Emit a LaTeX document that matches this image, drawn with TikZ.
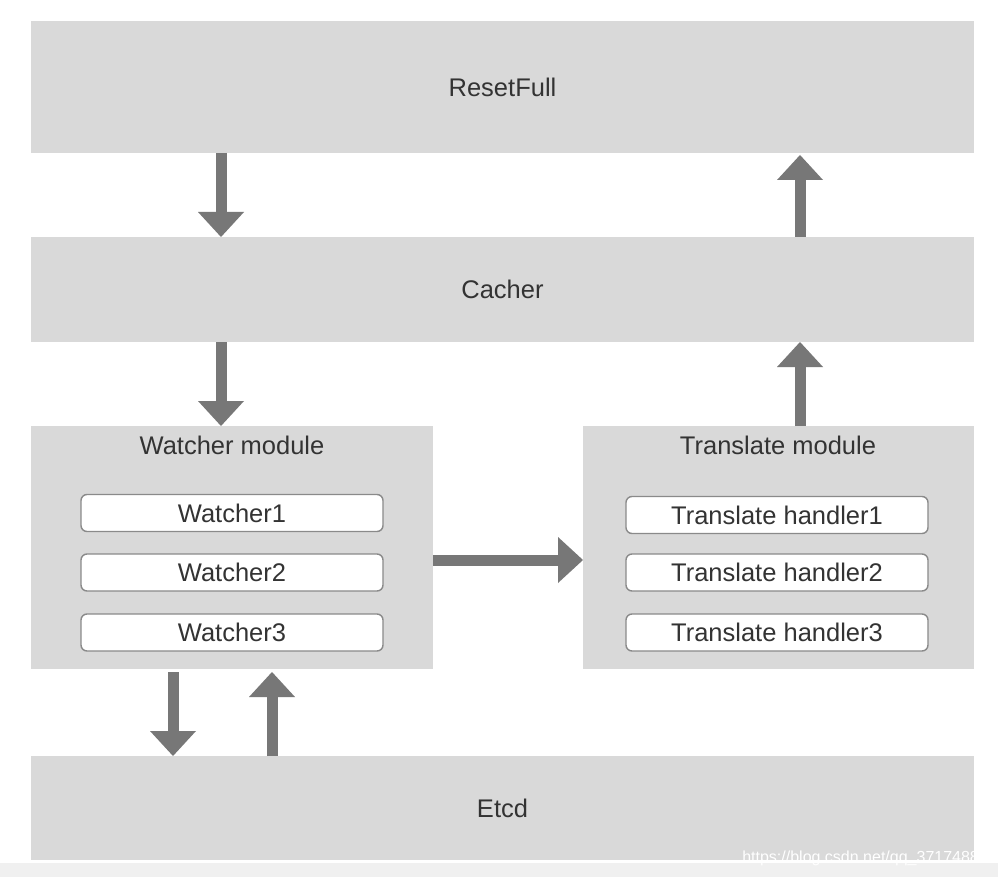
\documentclass[tikz,border=0pt]{standalone}
\usepackage{fontspec}
\setmainfont{Liberation Sans}
\usetikzlibrary{arrows.meta}
\definecolor{boxgray}{HTML}{D9D9D9}
\definecolor{arrgray}{HTML}{777777}
\definecolor{txtgray}{HTML}{333333}
\definecolor{edgegray}{HTML}{8A8A8A}
\tikzset{
  bigbox/.style={fill=boxgray, draw=none, inner sep=0pt, outer sep=0pt, anchor=north west},
  inbox/.style={fill=white, draw=edgegray, line width=1.4pt, rounded corners=6pt,
    minimum width=302pt, minimum height=37pt, inner sep=0pt, outer sep=0pt,
    font=\fontsize{25.5}{28}\selectfont, text=txtgray},
  title/.style={font=\fontsize{25.5}{28}\selectfont, text=txtgray, inner sep=0pt},
  bigarrow/.style={draw=arrgray, line width=11pt,
    -{Triangle[length=25pt,width=46pt,line width=0pt]}}
}
\begin{document}
\begin{tikzpicture}[x=1pt,y=-1pt]
\useasboundingbox (0,0) rectangle (998,877);
\fill[white] (0,0) rectangle (998,877);
\fill[black!6] (0,863) rectangle (998,877);
% big boxes
\node[bigbox, minimum width=943pt, minimum height=132pt] (reset) at (31,21) {};
\node[title] at (reset.center) {ResetFull};
\node[bigbox, minimum width=943pt, minimum height=105pt] (cacher) at (31,237) {};
\node[title] at (cacher.center) {Cacher};
\node[bigbox, minimum width=402pt, minimum height=243pt] (watch) at (31,426) {};
\node[title] (wtitle) at (232,445) {Watcher module};
\node[bigbox, minimum width=391pt, minimum height=243pt] (trans) at (583,426) {};
\node[title] (ttitle) at (778,445) {Translate module};
\node[bigbox, minimum width=943pt, minimum height=104pt] (etcd) at (31,756) {};
\node[title] at (etcd.center) {Etcd};
% inner boxes
\node[inbox] (w1) at (232,513) {Watcher1};
\node[inbox] (w2) at (232,572.5) {Watcher2};
\node[inbox] (w3) at (232,632.5) {Watcher3};
\node[inbox] (t1) at (777,515) {Translate handler1};
\node[inbox] (t2) at (777,572.5) {Translate handler2};
\node[inbox] (t3) at (777,632.5) {Translate handler3};
% arrows
\draw[bigarrow] ([xshift=190pt]reset.south west) -- ([xshift=190pt]cacher.north west);
\draw[bigarrow] ([xshift=769pt]cacher.north west) -- ([xshift=769pt,yshift=-2pt]reset.south west);
\draw[bigarrow] ([xshift=190pt]cacher.south west) -- ([xshift=190pt]watch.north west);
\draw[bigarrow] ([xshift=217pt]trans.north west) -- ([xshift=769pt]cacher.south west);
\draw[bigarrow] ([yshift=-134pt]watch.north east) -- ([yshift=-134pt]trans.north west);
\draw[bigarrow] ([xshift=142pt,yshift=-3pt]watch.south west) -- ([xshift=142pt]etcd.north west);
\draw[bigarrow] ([xshift=241pt]etcd.north west) -- ([xshift=241pt,yshift=-3pt]watch.south west);
% watermark
\node[text=white, font=\fontsize{16}{18}\selectfont, anchor=base east, inner sep=0pt] (wm) at (988,862) {https://blog.csdn.net/qq\_37174887};
\end{tikzpicture}
\end{document}
